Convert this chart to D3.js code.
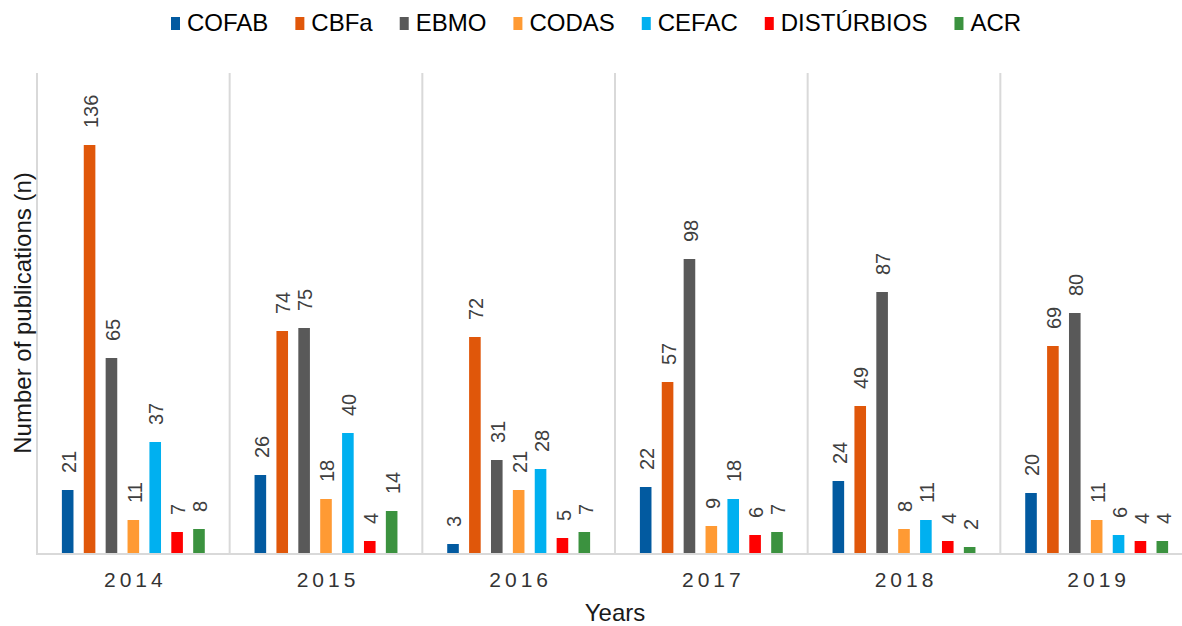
<!DOCTYPE html>
<html>
<head>
<meta charset="utf-8">
<script src="https://cdn.jsdelivr.net/npm/d3@7"></script>
<style>
  body { margin: 0; background: #fff; }
  svg { display: block; font-family: "Liberation Sans", Arial, sans-serif; }
</style>
</head>
<body>
<div id="chart"></div>
<script>
// Data
var years = ["2014", "2015", "2016", "2017", "2018", "2019"];
var seriesNames = ["COFAB", "CBFa", "EBMO", "CODAS", "CEFAC", "DISTÚRBIOS", "ACR"];
var seriesColors = ["#025aa0", "#e0570a", "#595959", "#ff9a33", "#00b0f0", "#ff0000", "#3b923f"];
var cofab = [21, 26, 3, 22, 24, 20];
var cbfa = [136, 74, 72, 57, 49, 69];
var ebmo = [65, 75, 31, 98, 87, 80];
var codas = [11, 18, 21, 9, 8, 11];
var cefac = [37, 40, 28, 18, 11, 6];
var disturbios = [7, 4, 5, 6, 4, 4];
var acr = [8, 14, 7, 7, 2, 4];
var allValues = [cofab, cbfa, ebmo, codas, cefac, disturbios, acr];

var W = 1182, H = 626;
var margin = {top: 73, left: 37, bottom: 73};
var plotRight = 1193;

var svg = d3.select("#chart").append("svg")
    .attr("width", W)
    .attr("height", H);

// Scales
var x0 = d3.scaleBand()
    .domain(years)
    .range([margin.left, plotRight])
    .paddingInner(0).paddingOuter(0);

var x1 = d3.scaleBand()
    .domain(seriesNames)
    .range([0, x0.bandwidth()])
    .paddingInner(0.47)
    .paddingOuter(1.137);

var y = d3.scaleLinear()
    .domain([0, 160])
    .range([H - margin.bottom, margin.top]);

// Vertical separators between categories
var seps = years.map(function(d) { return x0(d); });
svg.append("g").selectAll("line")
    .data(seps)
    .enter()
    .append("line")
    .attr("x1", function(d) { return d; })
    .attr("x2", function(d) { return d; })
    .attr("y1", y(160))
    .attr("y2", y(0))
    .attr("stroke", "#d9d9d9")
    .attr("stroke-width", 2);

// Bars + labels
var groups = svg.append("g").selectAll("g")
    .data(years)
    .enter()
    .append("g")
    .attr("transform", function(d) { return "translate(" + x0(d) + ",0)"; });

groups.each(function(yr, yi) {
    var g = d3.select(this);
    var rows = seriesNames.map(function(s, si) {
        return {name: s, value: allValues[si][yi], color: seriesColors[si]};
    });
    g.selectAll("rect")
        .data(rows)
        .enter()
        .append("rect")
        .attr("x", function(d) { return x1(d.name); })
        .attr("width", x1.bandwidth())
        .attr("y", function(d) { return y(d.value); })
        .attr("height", function(d) { return y(0) - y(d.value); })
        .attr("fill", function(d) { return d.color; });

    g.selectAll("text")
        .data(rows)
        .enter()
        .append("text")
        .attr("transform", function(d) {
            var cx = x1(d.name) + x1.bandwidth() / 2 + 1;
            return "translate(" + cx + "," + (y(d.value) - 17) + ") rotate(-90)";
        })
        .attr("dy", "0.36em")
        .attr("font-size", 20)
        .attr("fill", "#404040")
        .text(function(d) { return d.value; });
});

// Baseline
svg.append("line")
    .attr("x1", margin.left - 1)
    .attr("x2", plotRight)
    .attr("y1", y(0) + 1)
    .attr("y2", y(0) + 1)
    .attr("stroke", "#d9d9d9")
    .attr("stroke-width", 2);

// X tick labels
var ls = 4;
svg.append("g").selectAll("text")
    .data(years)
    .enter()
    .append("text")
    .attr("x", function(d) { return x0(d) + x0.bandwidth() / 2 + ls / 2; })
    .attr("y", 587)
    .attr("text-anchor", "middle")
    .attr("font-size", 21)
    .attr("letter-spacing", ls)
    .attr("fill", "#333")
    .text(function(d) { return d; });

// Axis titles
svg.append("text")
    .attr("x", (margin.left + plotRight) / 2)
    .attr("y", 621)
    .attr("text-anchor", "middle")
    .attr("font-size", 24)
    .attr("fill", "#1a1a1a")
    .text("Years");

svg.append("text")
    .attr("transform", "translate(31," + ((y(0) + y(160)) / 2) + ") rotate(-90)")
    .attr("text-anchor", "middle")
    .attr("font-size", 24)
    .attr("fill", "#1a1a1a")
    .text("Number of publications (n)");

// Legend
var legend = svg.append("g");
var lx = 171;
seriesNames.forEach(function(s, i) {
    legend.append("rect")
        .attr("x", lx)
        .attr("y", 17)
        .attr("width", 9)
        .attr("height", 13)
        .attr("fill", seriesColors[i]);
    var t = legend.append("text")
        .attr("x", lx + 16)
        .attr("y", 31)
        .attr("font-size", 24)
        .attr("fill", "#000")
        .text(s);
    lx += 16 + t.node().getComputedTextLength() + 27;
});
</script>
</body>
</html>
